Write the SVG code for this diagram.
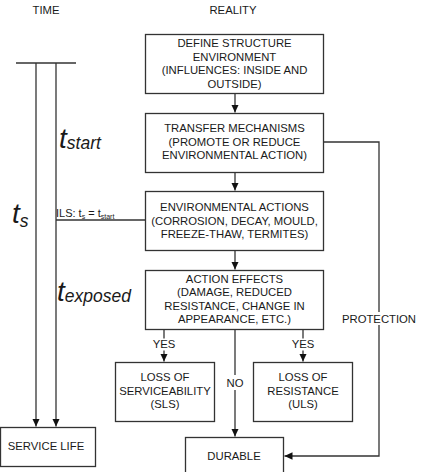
<svg xmlns="http://www.w3.org/2000/svg" width="421" height="472" viewBox="0 0 421 472">
<style>
text{font-family:"Liberation Sans",Arial,sans-serif;fill:#1a1a1a;font-size:11.3px;text-anchor:middle}
.box{fill:#fff;stroke:#333;stroke-width:1.3}
.ln{fill:none;stroke:#333;stroke-width:1.3}
text.it{font-style:italic;text-anchor:start;font-size:28px}
.it tspan{font-size:17.5px}
text.ils{text-anchor:start;font-size:11px}
.ils tspan.sub{font-size:7px}
.bg{fill:#fff}
</style>
<defs>
<marker id="ah" markerUnits="userSpaceOnUse" markerWidth="9" markerHeight="8" refX="8" refY="3.75" orient="auto">
<path d="M0,0 L8,3.75 L0,7.5 z" fill="#111"/>
</marker>
</defs>
<rect width="421" height="472" fill="#fff"/>
<text x="46" y="14">TIME</text>
<text x="233" y="14">REALITY</text>

<g id="connectors">
<path class="ln" d="M16,63 H76"/>
<path class="ln" d="M36,63 V426.5" marker-end="url(#ah)"/>
<path class="ln" d="M56,63 V426.5" marker-end="url(#ah)"/>
<path class="ln" d="M56,220 H145.5"/>
<path class="ln" d="M235,93.5 V112.5" marker-end="url(#ah)"/>
<path class="ln" d="M235,172.5 V190.5" marker-end="url(#ah)"/>
<path class="ln" d="M235,250.5 V269.5" marker-end="url(#ah)"/>
<path class="ln" d="M235,329.5 V436.5" marker-end="url(#ah)"/>
<path class="ln" d="M164,329.5 V361.5" marker-end="url(#ah)"/>
<path class="ln" d="M303,329.5 V361.5" marker-end="url(#ah)"/>
<path class="ln" d="M323.5,142 H379 V456 H284.5" marker-end="url(#ah)"/>
<rect class="bg" x="152" y="338.5" width="24" height="12"/>
<text x="164" y="348.3">YES</text>
<rect class="bg" x="291" y="338.5" width="24" height="12"/>
<text x="303" y="348.3">YES</text>
<rect class="bg" x="226" y="375" width="18" height="15"/>
<text x="235" y="386.7">NO</text>
<rect class="bg" x="343" y="312" width="72" height="13"/>
<text x="379" y="322.7">PROTECTION</text>
<text class="ils" x="56" y="217">ILS: t<tspan class="sub" dy="1.5">s</tspan><tspan dy="-1.5"> = t</tspan><tspan class="sub" dy="1.5">start</tspan></text>
</g>

<g id="t-start"><text class="it" x="59" y="148">t<tspan dy="1">start</tspan></text></g>
<g id="t-s"><text class="it" x="12" y="223">t<tspan dy="4">s</tspan></text></g>
<g id="t-exposed"><text class="it" x="57" y="301">t<tspan dy="1">exposed</tspan></text></g>

<g id="define">
<rect class="box" x="145.5" y="34.5" width="178" height="59"/>
<text x="234.5" y="47">DEFINE STRUCTURE</text>
<text x="234.5" y="60.5">ENVIRONMENT</text>
<text x="234.5" y="74">(INFLUENCES: INSIDE AND</text>
<text x="234.5" y="87.5">OUTSIDE)</text>
</g>
<g id="transfer">
<rect class="box" x="145.5" y="113.5" width="178" height="59"/>
<text x="234.5" y="132">TRANSFER MECHANISMS</text>
<text x="234.5" y="145.5">(PROMOTE OR REDUCE</text>
<text x="234.5" y="159">ENVIRONMENTAL ACTION)</text>
</g>
<g id="actions">
<rect class="box" x="145.5" y="191.5" width="178" height="59"/>
<text x="234.5" y="211">ENVIRONMENTAL ACTIONS</text>
<text x="234.5" y="224.5">(CORROSION, DECAY, MOULD,</text>
<text x="234.5" y="238">FREEZE-THAW, TERMITES)</text>
</g>
<g id="effects">
<rect class="box" x="145.5" y="270.5" width="178" height="59"/>
<text x="234.5" y="283">ACTION EFFECTS</text>
<text x="234.5" y="296.3">(DAMAGE, REDUCED</text>
<text x="234.5" y="309.6">RESISTANCE, CHANGE IN</text>
<text x="234.5" y="323">APPEARANCE, ETC.)</text>
</g>
<g id="sls">
<rect class="box" x="115.5" y="362.5" width="99" height="59"/>
<text x="165" y="381">LOSS OF</text>
<text x="165" y="394.5">SERVICEABILITY</text>
<text x="165" y="408">(SLS)</text>
</g>
<g id="uls">
<rect class="box" x="253.5" y="362.5" width="99" height="59"/>
<text x="303" y="381">LOSS OF</text>
<text x="303" y="394.5">RESISTANCE</text>
<text x="303" y="408">(ULS)</text>
</g>
<g id="service-life">
<rect class="box" x="0.5" y="427.5" width="95" height="39"/>
<text x="46" y="450">SERVICE LIFE</text>
</g>
<g id="durable">
<rect class="box" x="185.5" y="437.5" width="98" height="40"/>
<text x="234" y="460">DURABLE</text>
</g>
</svg>
